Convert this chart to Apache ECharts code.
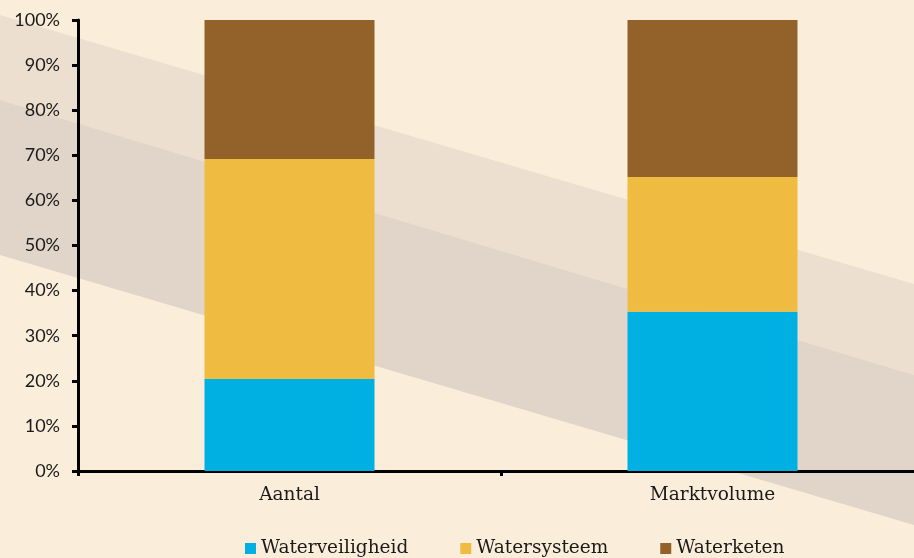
<!DOCTYPE html>
<html>
<head>
<meta charset="utf-8">
<script src="https://cdn.jsdelivr.net/npm/echarts@6/dist/echarts.min.js"></script>
<style>
  html, body { margin: 0; padding: 0; background: #faeedb; }
  #chart { width: 914px; height: 558px; }
</style>
</head>
<body>
<div id="chart"></div>
<script>
// data (percent of total)
var categories = ["Aantal", "Marktvolume"];
var waterveiligheid = [20.4, 35.3];
var watersysteem = [48.8, 29.9];
var waterketen = [30.8, 34.8];
var yTicks = [0, 10, 20, 30, 40, 50, 60, 70, 80, 90, 100];

var serif = "'DejaVu Serif', serif";

var chart = echarts.init(document.getElementById("chart"));

var option = {
  backgroundColor: "#faeedb",
  animation: false,
  // decorative diagonal bands behind the plot
  graphic: [
    {
      type: "polygon",
      z: -10,
      silent: true,
      shape: { points: [[0, 15], [914, 284], [914, 375], [0, 100]] },
      style: { fill: "#ecdfcf" }
    },
    {
      type: "polygon",
      z: -10,
      silent: true,
      shape: { points: [[0, 100], [914, 375], [914, 525], [0, 255]] },
      style: { fill: "#e0d5c8" }
    }
  ],
  grid: {
    left: 78,
    width: 846,
    top: 20,
    bottom: 87,
    containLabel: false,
    outerBoundsMode: "none"
  },
  legend: {
    left: 245,
    bottom: 0,
    padding: 0,
    itemWidth: 11,
    itemHeight: 11,
    itemGap: 52,
    icon: "rect",
    textStyle: { fontFamily: serif, fontSize: 18.5, color: "#1a1a1a" },
    data: ["Waterveiligheid", "Watersysteem", "Waterketen"]
  },
  xAxis: {
    type: "category",
    data: categories,
    axisLine: { lineStyle: { color: "#000", width: 3 } },
    axisTick: { show: true, length: 5, lineStyle: { color: "#000", width: 3 } },
    axisLabel: { fontFamily: serif, fontSize: 18.5, color: "#1a1a1a", margin: 15 }
  },
  yAxis: {
    type: "value",
    min: yTicks[0],
    max: yTicks[yTicks.length - 1],
    interval: 10,
    splitLine: { show: false },
    axisLine: { show: true, lineStyle: { color: "#000", width: 3 } },
    axisTick: { show: true, length: 6, lineStyle: { color: "#000", width: 3 } },
    axisLabel: {
      fontFamily: "Lato, sans-serif",
      fontSize: 18,
      color: "#1a1a1a",
      margin: 18,
      formatter: "{value}%"
    }
  },
  series: [
    {
      name: "Waterveiligheid",
      type: "bar",
      stack: "total",
      barWidth: 170,
      itemStyle: { color: "#00b0e2" },
      data: waterveiligheid
    },
    {
      name: "Watersysteem",
      type: "bar",
      stack: "total",
      barWidth: 170,
      itemStyle: { color: "#efbb41" },
      data: watersysteem
    },
    {
      name: "Waterketen",
      type: "bar",
      stack: "total",
      barWidth: 170,
      itemStyle: { color: "#93622a" },
      data: waterketen
    }
  ]
};

chart.setOption(option);
</script>
</body>
</html>
